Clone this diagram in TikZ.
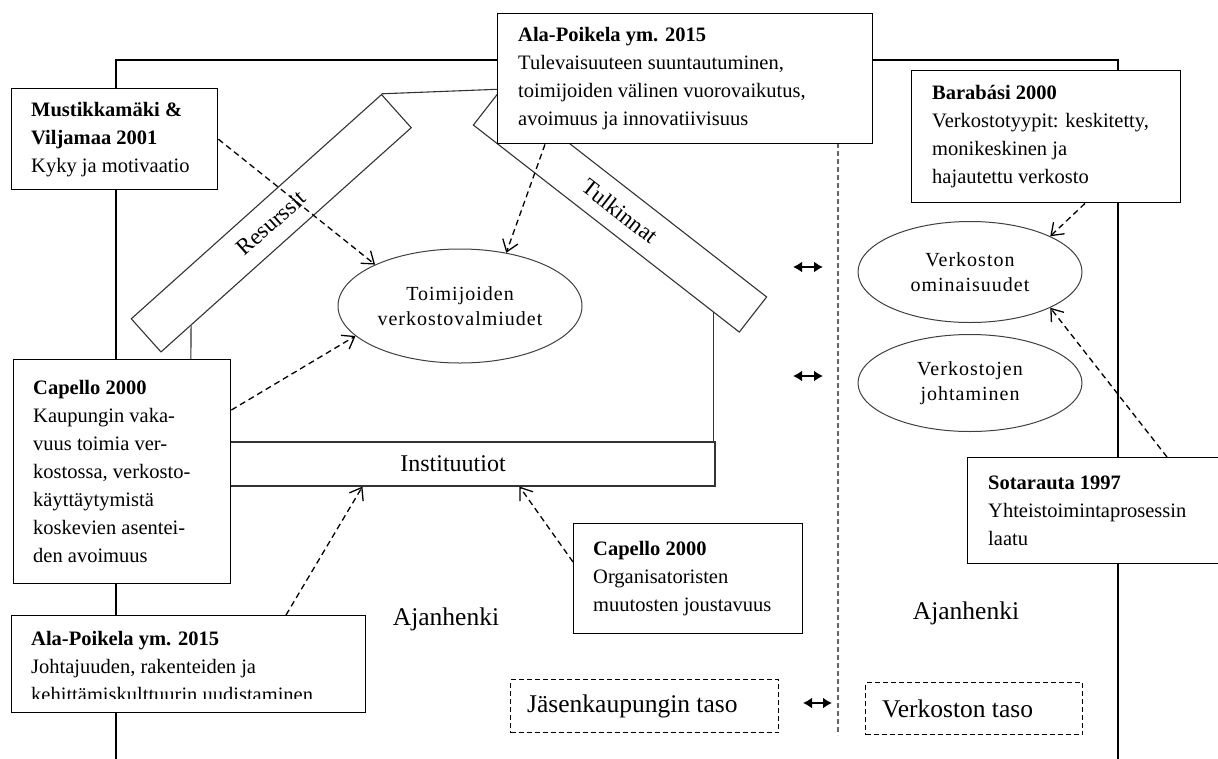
\documentclass[tikz,border=0pt]{standalone}
\usepackage{fontspec}
\setmainfont{Liberation Serif}
\usetikzlibrary{arrows.meta,calc,shapes.geometric}
\begin{document}
\begin{tikzpicture}[x=1pt,y=-1pt,
  frameline/.style={line width=1.5pt},
  housel/.style={draw=black!80, line width=1.1pt},
  refbox/.style={draw, line width=1.4pt, fill=white, anchor=north west, inner sep=0pt},
  reftext/.style={align=left, inner sep=0pt, font=\fontsize{20.5}{28}\selectfont},
  bar/.style={draw=black!80, line width=1.1pt, fill=white, inner sep=0pt, minimum height=44.5pt, font=\fontsize{23}{28}\selectfont},
  oval/.style={ellipse, draw=black!75, line width=1pt, fill=white, inner sep=0pt, align=center, font=\fontsize{20}{25}\selectfont\addfontfeatures{LetterSpace=5}},
  levelbox/.style={draw, dash pattern=on 5pt off 3pt, line width=1.2pt, anchor=north west, inner sep=0pt},
  leveltext/.style={font=\fontsize{25.5}{30}\selectfont, inner sep=0pt},
  citearrow/.style={dash pattern=on 6pt off 4pt, line width=1.3pt, -{Straight Barb[length=11pt,width=16pt,line width=1.3pt]}},
  twoway/.style={line width=2.6pt, {Latex[length=9pt,width=11pt]}-{Latex[length=9pt,width=11pt]}},
  ]
\useasboundingbox (0,0) rectangle (1218,758);
\fill[white] (0,0) rectangle (1218,758);

% outer frame
\coordinate (fbl) at (116,762);
\coordinate (ftl) at (116,60);
\coordinate (ftr) at (1118,60);
\coordinate (fbr) at (1118,762);
\draw[frameline] (fbl) -- (ftl) -- (ftr) -- (fbr);

% dashed divider
\coordinate (dv1) at (838,143);
\coordinate (dv2) at (838,735);
\draw[black!60, dash pattern=on 5pt off 3pt, line width=1.3pt] (dv1) -- (dv2);

% house
\node[bar, minimum width=336pt, rotate=41.86] (res) at (271.25,223.25) {Resurssit};
\node[bar, minimum width=337pt, rotate=-37.9] (tul) at (620,211) {Tulkinnat};
\node[bar, minimum width=524pt, minimum height=44pt, font=\fontsize{24}{28}\selectfont] (inst) at (453,464) {Instituutiot};
\draw[housel] (res.north east) -- (tul.north west);
\coordinate (lw) at ($(res.south west)!0.12!(res.south east)$);
\draw[housel] (lw) -- (inst.north west);
\coordinate (rw) at ($(tul.south west)!0.902!(tul.south east)$);
\draw[housel] (rw) -- (rw |- inst.north);

% ellipses
\node[oval, minimum width=244pt, minimum height=114pt] (toim) at (460,306) {Toimijoiden\\verkostovalmiudet};
\node[oval, minimum width=224pt, minimum height=101pt] (vo) at (970,272) {Verkoston\\ominaisuudet};
\node[oval, minimum width=224pt, minimum height=97pt] (vj) at (970,383) {Verkostojen\\johtaminen};

% reference boxes
\node[refbox, minimum width=206pt, minimum height=101pt] (must) at (11,88) {};
\node[reftext, anchor=west, xshift=20pt] (mustT) at (must.west) {\textbf{Mustikkamäki \&}\\\textbf{Viljamaa 2001}\\Kyky ja motivaatio};

\node[refbox, minimum width=375pt, minimum height=130pt] (ap1) at (497,13) {};
\node[reftext, anchor=west, xshift=21pt] (ap1T) at (ap1.west) {\textbf{Ala-Poikela ym. 2015}\\Tulevaisuuteen suuntautuminen,\\toimijoiden välinen vuorovaikutus,\\avoimuus ja innovatiivisuus};

\node[refbox, minimum width=269pt, minimum height=132pt] (bara) at (911,70) {};
\node[reftext, anchor=west, xshift=21pt] (baraT) at (bara.west) {\textbf{Barabási 2000}\\Verkostotyypit: keskitetty,\\monikeskinen ja\\hajautettu verkosto};

\node[refbox, minimum width=217pt, minimum height=224pt] (cap1) at (13,359) {};
\node[reftext, anchor=west, xshift=20pt] (cap1T) at (cap1.west) {\textbf{Capello 2000}\\Kaupungin vaka-\\vuus toimia ver-\\kostossa, verkosto-\\käyttäytymistä\\koskevien asentei-\\den avoimuus};

\node[refbox, minimum width=229pt, minimum height=110pt] (cap2) at (573,523) {};
\node[reftext, anchor=west, xshift=20pt] (cap2T) at (cap2.west) {\textbf{Capello 2000}\\Organisatoristen\\muutosten joustavuus};

\node[refbox, minimum width=262pt, minimum height=106pt] (sota) at (967,457) {};
\node[reftext, anchor=west, xshift=21pt] (sotaT) at (sota.west) {\textbf{Sotarauta 1997}\\Yhteistoimintaprosessin\\laatu};

\node[refbox, minimum width=354pt, minimum height=97pt] (ap2) at (11,615) {};
\begin{scope}
  \clip (11,615) rectangle (365,698);
  \node[reftext, anchor=north west] (ap2T) at (31,631) {\textbf{Ala-Poikela ym. 2015}\\Johtajuuden, rakenteiden ja\\kehittämiskulttuurin uudistaminen};
\end{scope}

% level boxes
\node[levelbox, minimum width=268pt, minimum height=53pt] (jas) at (510,679) {};
\node[leveltext, anchor=west, xshift=17pt] (jasT) at (jas.west) {Jäsenkaupungin taso};
\node[levelbox, minimum width=217pt, minimum height=52pt] (verk) at (865,682) {};
\node[leveltext, anchor=west, xshift=17pt] (verkT) at (verk.west) {Verkoston taso};

% Ajanhenki labels
\node[leveltext, anchor=base] (aj1) at (446,625) {Ajanhenki};
\node[leveltext, anchor=base] (aj2) at (966,619) {Ajanhenki};

% two-way arrows
\coordinate (d1a) at (793,267); \coordinate (d1b) at (823,267);
\coordinate (d2a) at (793,376); \coordinate (d2b) at (823,376);
\coordinate (d3a) at (803,703); \coordinate (d3b) at (832,703);
\draw[twoway] (d1a) -- (d1b);
\draw[twoway] (d2a) -- (d2b);
\draw[twoway] (d3a) -- (d3b);

% citation arrows
\draw[citearrow] (must.east) -- (toim.154);
\draw[citearrow] ($(ap1.south west)+(48,0)$) -- (toim.49);
\draw[citearrow] ($(cap1.north east)+(0,51)$) -- (toim.196);
\draw[citearrow] ($(bara.south west)+(174,0)$) -- (vo.24);
\draw[citearrow] ($(sota.north west)+(200,0)$) -- (vo.-24);
\draw[citearrow] ($(ap2.north west)+(275,0)$) -- ($(inst.south west)+(172,0)$);
\draw[citearrow] ($(cap2.north west)+(0,39)$) -- ($(inst.south west)+(329,0)$);
\end{tikzpicture}
\end{document}
